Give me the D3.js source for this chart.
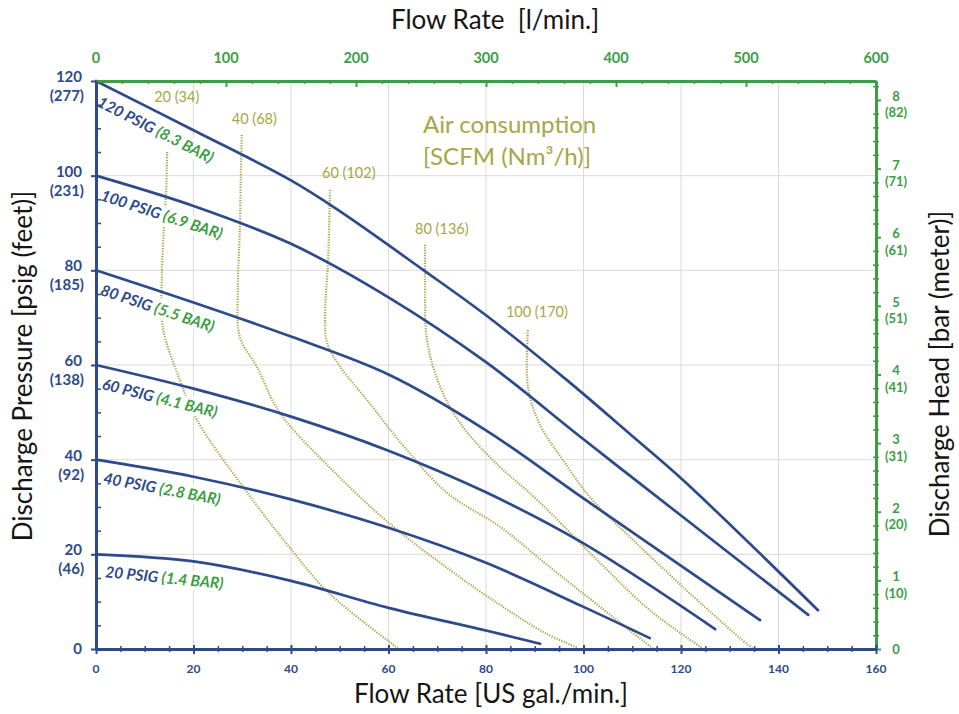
<!DOCTYPE html>
<html>
<head>
<meta charset="utf-8">
<script src="https://cdn.jsdelivr.net/npm/d3@7"></script>
<style>
	body { margin: 0; background: #fff; }
	svg { display: block; }
	text { font-family: Lato, "Open Sans", sans-serif; }
</style>
</head>
<body>
<svg id="chart" width="959" height="714"></svg>
<script>
// ---------------------------------------------------------------
// Data
// ---------------------------------------------------------------

// axis ticks
const gpmTicks = [0, 20, 40, 60, 80, 100, 120, 140, 160];
const lpmTicks = [0, 100, 200, 300, 400, 500, 600];
const psiTicks = [0, 20, 40, 60, 80, 100, 120];
const feetLabels = ["", "(46)", "(92)", "(138)", "(185)", "(231)", "(277)"];
const barTicks = [0, 1, 2, 3, 4, 5, 6, 7, 8];
const meterLabels = ["", "(10)", "(20)", "(31)", "(41)", "(51)", "(61)", "(71)", "(82)"];

// pump curves: [flow gpm, discharge psig]
const pumpNames = ["20 PSIG", "40 PSIG", "60 PSIG", "80 PSIG", "100 PSIG", "120 PSIG"];
const pumpBar = ["(1.4 BAR)", "(2.8 BAR)", "(4.1 BAR)", "(5.5 BAR)", "(6.9 BAR)", "(8.3 BAR)"];

const curve20 = [[0, 20], [20, 18.5], [40, 14.4], [60, 8.7], [80, 3.9], [91.1, 1.1]];
const curve40 = [[0, 40], [20, 36.4], [40, 31.6], [60, 25.6], [80, 18.2], [100, 8.9], [113.6, 2.3]];
const curve60 = [[0, 60], [20, 55.0], [40, 49.1], [60, 41.9], [80, 33.1], [100, 22.3], [127, 4.2]];
const curve80 = [[0, 80], [20, 73.2], [40, 66.0], [60, 58.0], [80, 46.2], [100, 31.8], [136.2, 6.1]];
const curve100 = [[0, 100], [20, 93.6], [40, 85.6], [60, 74.3], [80, 60.6], [100, 44.3], [120, 28.2], [146.1, 7.2]];
const curve120 = [[0, 120], [20, 109.6], [40, 99.0], [50, 92.5], [67.1, 80.1], [80, 70.5], [96.6, 56.8],
	[110, 45.0], [120.4, 35.7], [148.1, 8.2]];

// air consumption lines: SCFM (Nm3/h)
const airNames = ["20 (34)", "40 (68)", "60 (102)", "80 (136)", "100 (170)"];
const air20 = [[14.6, 105.0], [14.4, 97.0], [13.9, 88.5], [13.5, 78.0], [13.7, 68.0], [17.2, 56.8],
	[20.7, 48.4], [30.2, 34.2], [39.6, 21.6], [47.8, 11.8], [61.9, 0.2]];
const air40 = [[29.9, 108.6], [29.7, 99.1], [29.5, 88.5], [29.1, 75.9], [29.5, 65.9], [33.0, 59.6],
	[37.7, 49.9], [47.8, 38.5], [60.1, 26.6], [71.8, 17.3], [82.9, 9.3], [92.1, 3.4], [98.9, 0.2]];
const air60 = [[48.0, 97.0], [47.6, 81.8], [47.0, 71.0], [47.4, 64.7], [50.1, 59.6], [55.6, 52.6],
	[63.4, 42.5], [72.0, 33.0], [82.9, 25.8], [93.1, 17.3], [103.4, 8.9], [114.1, 0.2]];
const air80 = [[67.5, 85.4], [67.5, 78.0], [67.9, 65.3], [70.6, 55.4], [74.7, 47.7], [81.4, 39.9],
	[90.5, 31.5], [103.4, 18.2], [113.6, 8.2], [124.3, 0.2]];
const air100 = [[88.6, 67.4], [88.6, 55.4], [91.1, 47.3], [95.8, 39.9], [101.3, 32.1], [110.2, 23.0],
	[120.4, 13.1], [132.1, 2.3], [134.6, 0.2]];

const pumpCurves = [curve20, curve40, curve60, curve80, curve100, curve120];
const airCurves = [air20, air40, air60, air80, air100];

// ---------------------------------------------------------------
// Layout / colours
// ---------------------------------------------------------------
const NAVY = "#2d4a8a";
const GREEN = "#3b9d44";
const OLIVE = "#a6a645";
const GRID = "#ded9d9";

const svg = d3.select("#chart");
const x = d3.scaleLinear().domain([0, 160]).range([96, 876]);
const y = d3.scaleLinear().domain([0, 120]).range([649, 81]);
const xTop = d3.scaleLinear().domain([0, 600]).range(x.range());
const yBar = d3.scaleLinear().domain([0, 120 / 14.5]).range(y.range());

// linear interpolation along a curve at flow fx
function psiAt(curve, fx) {
	for (let i = 1; i < curve.length; i++) {
		if (fx <= curve[i][0]) {
			const a = curve[i - 1], b = curve[i];
			return a[1] + (b[1] - a[1]) * (fx - a[0]) / (b[0] - a[0]);
		}
	}
	return curve[curve.length - 1][1];
}

// ---------------------------------------------------------------
// Grid
// ---------------------------------------------------------------
const grid = svg.append("g").attr("stroke", GRID).attr("stroke-width", 1);
grid.selectAll("line.v")
	.data(gpmTicks.filter((d) => d > 0 && d < 160))
	.join("line")
	.attr("x1", (d) => x(d)).attr("x2", (d) => x(d))
	.attr("y1", y(0)).attr("y2", y(120));
grid.selectAll("line.h")
	.data(psiTicks.filter((d) => d > 0 && d < 120))
	.join("line")
	.attr("x1", x(0)).attr("x2", x(160))
	.attr("y1", (d) => y(d)).attr("y2", (d) => y(d));

// ---------------------------------------------------------------
// Air consumption (dotted)
// ---------------------------------------------------------------
const airLine = d3.line()
	.x((d) => x(d[0]))
	.y((d) => y(d[1]))
	.curve(d3.curveCatmullRom.alpha(0.5));

svg.append("g").selectAll("path")
	.data(airCurves)
	.join("path")
	.attr("d", airLine)
	.attr("fill", "none")
	.attr("stroke", OLIVE)
	.attr("stroke-width", 2.2)
	.attr("stroke-dasharray", "1.2,1.4");

// labels above each dotted line (lift in px, first one sits above the 120 label)
const airLift = [50, 11, 12, 11, 13];
const airShift = [-13, -10, -8, -10, -22];
svg.append("g").selectAll("text")
	.data(airCurves)
	.join("text")
	.attr("x", (d, i) => x(d[0][0]) + airShift[i])
	.attr("y", (d, i) => y(d[0][1]) - airLift[i])
	.attr("fill", OLIVE)
	.style("font-size", "14.5px")
	.text((d, i) => airNames[i]);

const airTitle = svg.append("g").attr("fill", OLIVE).style("font-size", "24px");
airTitle.append("text").attr("x", 423).attr("y", 133).text("Air consumption");
airTitle.append("text").attr("x", 423).attr("y", 165).text("[SCFM (Nm³/h)]");

// ---------------------------------------------------------------
// Pump curve labels (drawn before curves, white halo cuts dotted lines)
// ---------------------------------------------------------------
const lbl = svg.append("g");
pumpCurves.forEach((c, i) => {
	const f0 = 0.8, f1 = 25;
	const p0 = psiAt(c, f0), p1 = psiAt(c, f1);
	const ang = Math.atan2(y(p1) - y(p0), x(f1) - x(f0)) * 180 / Math.PI;
	const g = lbl.append("g")
		.attr("transform", `translate(${x(f0)},${y(p0)}) rotate(${ang})`);
	const t = g.append("text")
		.attr("x", 7)
		.attr("y", 22)
		.style("font-size", "15.5px")
		.style("font-weight", "700")
		.style("font-style", "italic")
		.style("paint-order", "stroke")
		.attr("stroke", "#fff")
		.attr("stroke-width", 8)
		.attr("stroke-linejoin", "round");
	t.append("tspan").attr("fill", NAVY).text(pumpNames[i] + " ");
	t.append("tspan").attr("fill", GREEN).text(pumpBar[i]);
});

// ---------------------------------------------------------------
// Pump curves
// ---------------------------------------------------------------
const pumpLine = d3.line()
	.x((d) => x(d[0]))
	.y((d) => y(d[1]))
	.curve(d3.curveCatmullRom.alpha(0.5));

svg.append("g").selectAll("path")
	.data(pumpCurves)
	.join("path")
	.attr("d", pumpLine)
	.attr("fill", "none")
	.attr("stroke", NAVY)
	.attr("stroke-width", 2.7)
	.attr("stroke-linecap", "round");

// ---------------------------------------------------------------
// Axes
// ---------------------------------------------------------------
function styleAxis(sel, color, width) {
	sel.select(".domain").attr("stroke", color).attr("stroke-width", width);
	sel.selectAll("line").attr("stroke", color).attr("stroke-width", 2);
}
function styleMinor(sel, color) {
	sel.select(".domain").remove();
	sel.selectAll("line").attr("stroke", color).attr("stroke-width", 1.5);
}

// top (l/min) - green
svg.append("g").attr("transform", `translate(0,${y(120)})`)
	.call(d3.axisBottom(xTop).tickValues(lpmTicks).tickSize(6).tickSizeOuter(0).tickFormat(""))
	.call((g) => styleAxis(g, GREEN, 3));
svg.append("g").attr("transform", `translate(0,${y(120)})`)
	.call(d3.axisBottom(xTop).tickValues(d3.range(20, 600, 20).filter((v) => v % 100)).tickSize(3).tickFormat(""))
	.call((g) => styleMinor(g, GREEN));
svg.append("g").selectAll("text")
	.data(lpmTicks)
	.join("text")
	.attr("x", (d) => xTop(d))
	.attr("y", 63)
	.attr("text-anchor", "middle")
	.attr("fill", GREEN)
	.style("font-size", "14.5px")
	.style("font-weight", "700")
	.text((d) => d);

// right (bar) - green
svg.append("g").attr("transform", `translate(${x(160)},0)`)
	.call(d3.axisRight(yBar).tickValues(barTicks).tickSize(5).tickSizeOuter(0).tickFormat(""))
	.call((g) => styleAxis(g, GREEN, 3));
svg.append("g").attr("transform", `translate(${x(160) - 3},0)`)
	.call(d3.axisRight(yBar).tickValues(d3.range(0.2, 8.27, 0.2).filter((v) => Math.abs(v - Math.round(v)) > 0.01)).tickSize(6).tickFormat(""))
	.call((g) => styleMinor(g, GREEN));
const rightLab = svg.append("g")
	.attr("fill", GREEN)
	.attr("text-anchor", "middle")
	.style("font-size", "13px")
	.style("font-weight", "700");
barTicks.forEach((b, i) => {
	rightLab.append("text").attr("x", 896).attr("y", yBar(b) + (i === 0 ? 5 : 1)).text(b);
	if (meterLabels[i]) rightLab.append("text").attr("x", 896).attr("y", yBar(b) + 17.5).text(meterLabels[i]);
});

// bottom (gpm) - navy
const botAx = svg.append("g").attr("transform", `translate(0,${y(0)})`);
botAx.call(d3.axisBottom(x).tickValues(gpmTicks).tickSize(5).tickSizeOuter(0).tickFormat(""))
	.call((g) => styleAxis(g, NAVY, 3));
botAx.selectAll(".tick line").attr("y1", -4);
svg.append("g").attr("transform", `translate(0,${y(0) - 3})`)
	.call(d3.axisBottom(x).tickValues(d3.range(5, 160, 5).filter((v) => v % 20)).tickSize(6).tickFormat(""))
	.call((g) => styleMinor(g, NAVY));
svg.append("g").selectAll("text")
	.data(gpmTicks)
	.join("text")
	.attr("x", (d) => x(d))
	.attr("y", 673)
	.attr("text-anchor", "middle")
	.attr("fill", NAVY)
	.style("font-size", "12px")
	.style("font-weight", "700")
	.text((d) => d);

// left (psig) - navy
svg.append("g").attr("transform", `translate(${x(0)},0)`)
	.call(d3.axisLeft(y).tickValues(psiTicks).tickSize(5).tickSizeOuter(0).tickFormat(""))
	.call((g) => styleAxis(g, NAVY, 3));
svg.append("g").attr("transform", `translate(${x(0)},0)`)
	.call(d3.axisRight(y).tickValues(d3.range(5, 120, 5).filter((v) => v % 20)).tickSize(5).tickFormat(""))
	.call((g) => styleMinor(g, NAVY));
const leftLab = svg.append("g")
	.attr("fill", NAVY)
	.attr("text-anchor", "end")
	.style("font-size", "15px")
	.style("font-weight", "700");
psiTicks.forEach((p, i) => {
	leftLab.append("text").attr("x", 82).attr("y", y(p) + (i === 0 ? 5 : 1)).text(p);
	if (feetLabels[i]) leftLab.append("text").attr("x", 84).attr("y", y(p) + 20).text(feetLabels[i]);
});

// ---------------------------------------------------------------
// Axis titles
// ---------------------------------------------------------------
const titles = svg.append("g").attr("fill", "#151515").style("font-size", "26px").attr("text-anchor", "middle");
titles.append("text").attr("x", 491).attr("y", 703).text("Flow Rate [US gal./min.]");
titles.append("text").attr("x", 495).attr("y", 29).style("white-space", "pre").text("Flow Rate  [l/min.]");
titles.append("text").attr("transform", "translate(32,366) rotate(-90)").text("Discharge Pressure [psig (feet)]");
titles.append("text").attr("transform", "translate(949,374) rotate(-90)").text("Discharge Head [bar (meter)]");
</script>
</body>
</html>
